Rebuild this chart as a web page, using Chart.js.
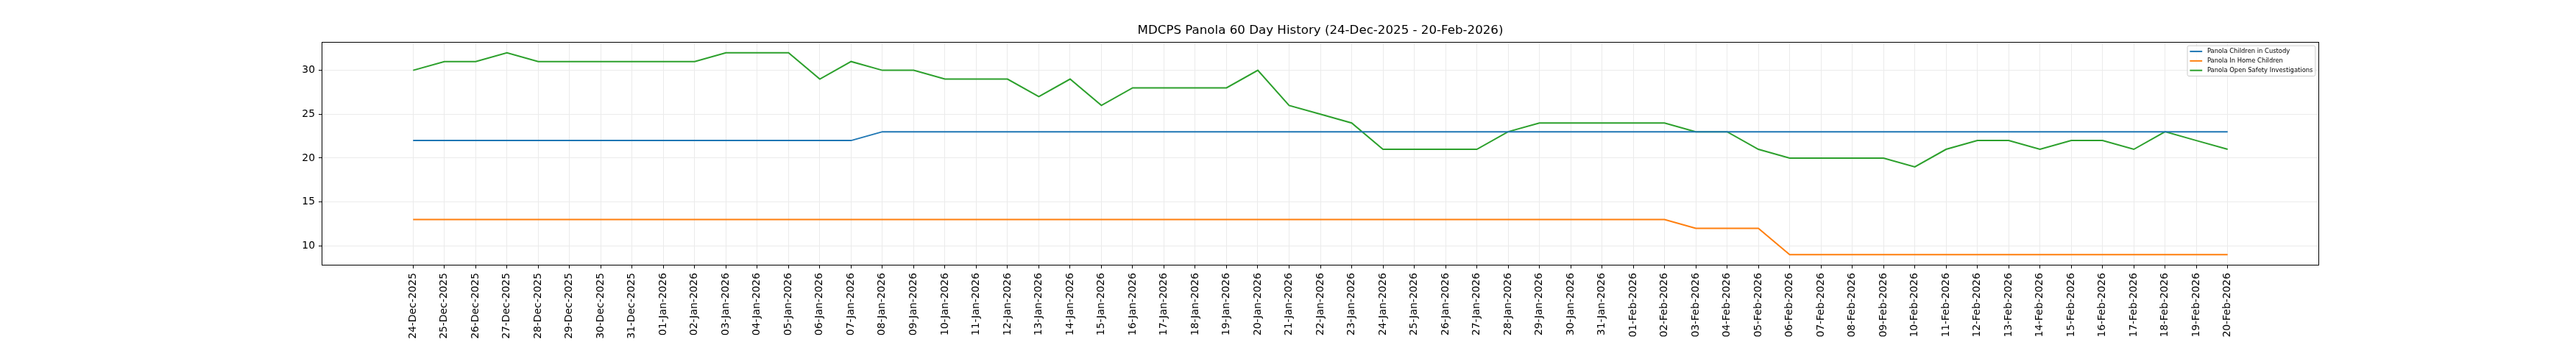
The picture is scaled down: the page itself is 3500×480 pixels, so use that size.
<!DOCTYPE html>
<html>
<head>
<meta charset="utf-8">
<script src="https://cdn.jsdelivr.net/npm/chart.js@4"></script>
<style>
  html, body { margin: 0; padding: 0; background: #fff; }
  canvas { display: block; }
</style>
</head>
<body>
<canvas id="historyChart" width="3500" height="480"></canvas>
<script>
// tick labels (one per day)
const dates = [
  '24-Dec-2025', '25-Dec-2025', '26-Dec-2025', '27-Dec-2025', '28-Dec-2025', '29-Dec-2025', '30-Dec-2025', '31-Dec-2025',
  '01-Jan-2026', '02-Jan-2026', '03-Jan-2026', '04-Jan-2026', '05-Jan-2026', '06-Jan-2026', '07-Jan-2026', '08-Jan-2026',
  '09-Jan-2026', '10-Jan-2026', '11-Jan-2026', '12-Jan-2026', '13-Jan-2026', '14-Jan-2026', '15-Jan-2026', '16-Jan-2026',
  '17-Jan-2026', '18-Jan-2026', '19-Jan-2026', '20-Jan-2026', '21-Jan-2026', '22-Jan-2026', '23-Jan-2026', '24-Jan-2026',
  '25-Jan-2026', '26-Jan-2026', '27-Jan-2026', '28-Jan-2026', '29-Jan-2026', '30-Jan-2026', '31-Jan-2026',
  '01-Feb-2026', '02-Feb-2026', '03-Feb-2026', '04-Feb-2026', '05-Feb-2026', '06-Feb-2026', '07-Feb-2026', '08-Feb-2026',
  '09-Feb-2026', '10-Feb-2026', '11-Feb-2026', '12-Feb-2026', '13-Feb-2026', '14-Feb-2026', '15-Feb-2026', '16-Feb-2026',
  '17-Feb-2026', '18-Feb-2026', '19-Feb-2026', '20-Feb-2026'
];

const custody = [
  22, 22, 22, 22, 22, 22, 22, 22,
  22, 22, 22, 22, 22, 22, 22, 23, 23, 23, 23, 23, 23, 23, 23, 23, 23, 23, 23, 23, 23, 23, 23, 23, 23, 23, 23, 23, 23, 23, 23,
  23, 23, 23, 23, 23, 23, 23, 23, 23, 23, 23, 23, 23, 23, 23, 23, 23, 23, 23, 23
];

const inHome = [
  13, 13, 13, 13, 13, 13, 13, 13,
  13, 13, 13, 13, 13, 13, 13, 13, 13, 13, 13, 13, 13, 13, 13, 13, 13, 13, 13, 13, 13, 13, 13, 13, 13, 13, 13, 13, 13, 13, 13,
  13, 13, 12, 12, 12, 9, 9, 9, 9, 9, 9, 9, 9, 9, 9, 9, 9, 9, 9, 9
];

const investigations = [
  30, 31, 31, 32, 31, 31, 31, 31,
  31, 31, 32, 32, 32, 29, 31, 30, 30, 29, 29, 29, 27, 29, 26, 28, 28, 28, 28, 30, 26, 25, 24, 21, 21, 21, 21, 23, 24, 24, 24,
  24, 24, 23, 23, 21, 20, 20, 20, 20, 19, 21, 22, 22, 21, 22, 22, 21, 23, 22, 21
];

const yTicks = [10, 15, 20, 25, 30];
const seriesNames = ['Panola Children in Custody', 'Panola In Home Children', 'Panola Open Safety Investigations'];
const seriesColors = ['#1f77b4', '#ff7f0e', '#2ca02c'];

const FONT = '"DejaVu Sans", "Liberation Sans", sans-serif';
const gridColor = '#ebebeb';

// black box all around the plot area, like matplotlib spines
const frame = {
  id: 'frame',
  afterDraw(chart) {
    const { ctx, chartArea: a } = chart;
    ctx.save();
    ctx.strokeStyle = '#000';
    ctx.lineWidth = 1;
    const l = Math.round(a.left) - 0.5, t = Math.round(a.top) - 0.5;
    const r = Math.round(a.right) + 0.5, b = Math.round(a.bottom) + 0.5;
    ctx.strokeRect(l, t, r - l, b - t);
    ctx.restore();
  }
};

// small legend in upper right corner inside the plot
const boxLegend = {
  id: 'boxLegend',
  afterDraw(chart) {
    const { ctx, chartArea: a } = chart;
    const fs = 8.4, pad = 0.4 * fs, handle = 2 * fs, gap = 0.8 * fs, rowH = 8.7, spacing = 0.5 * fs;
    const items = chart.data.datasets;
    ctx.save();
    ctx.font = fs + 'px ' + FONT;
    const textW = Math.max(...items.map(d => ctx.measureText(d.label).width));
    const w = pad + handle + gap + textW + pad;
    const h = 2 * pad + items.length * rowH + (items.length - 1) * spacing;
    const x0 = a.right - 0.5 * fs - w;
    const y0 = a.top + 0.5 * fs;

    ctx.beginPath();
    ctx.roundRect(x0, y0, w, h, 2);
    ctx.fillStyle = 'rgba(255,255,255,0.8)';
    ctx.fill();
    ctx.strokeStyle = '#cccccc';
    ctx.lineWidth = 1;
    ctx.stroke();

    items.forEach((d, i) => {
      const cy = y0 + pad + i * (rowH + spacing) + rowH / 2;
      ctx.beginPath();
      ctx.moveTo(x0 + pad, cy);
      ctx.lineTo(x0 + pad + handle, cy);
      ctx.strokeStyle = d.borderColor;
      ctx.lineWidth = 2;
      ctx.stroke();
      ctx.fillStyle = '#000';
      ctx.textBaseline = 'middle';
      ctx.textAlign = 'left';
      ctx.fillText(d.label, x0 + pad + handle + gap, cy);
    });
    ctx.restore();
  }
};

const toPoints = arr => arr.map((v, i) => ({ x: i, y: v }));

new Chart(document.getElementById('historyChart'), {
  type: 'line',
  data: {
    datasets: [custody, inHome, investigations].map((vals, i) => ({
      label: seriesNames[i],
      data: toPoints(vals),
      borderColor: seriesColors[i],
      backgroundColor: seriesColors[i],
      borderWidth: 2,
      pointRadius: 0,
      tension: 0,
      fill: false,
    }))
  },
  plugins: [frame, boxLegend],
  options: {
    responsive: false,
    devicePixelRatio: 1,
    animation: false,
    layout: { padding: { left: 378, right: 350, top: 0, bottom: 0 } },
    plugins: {
      legend: { display: false },
      tooltip: { enabled: false },
      title: {
        display: true,
        fullSize: false,
        text: 'MDCPS Panola 60 Day History (24-Dec-2025 - 20-Feb-2026)',
        color: '#000',
        font: { family: FONT, size: 16.67, weight: 'normal' },
        padding: { top: 32, bottom: 6 },
      },
    },
    scales: {
      x: {
        type: 'linear',
        min: -2.9,
        max: 60.9,
        afterBuildTicks: s => { s.ticks = dates.map((d, i) => ({ value: i })); },
        afterFit: s => { s.height = 120; },
        border: { display: false },
        grid: { color: gridColor, lineWidth: 1, tickLength: 5, tickColor: '#000', tickWidth: 1 },
        ticks: {
          autoSkip: false,
          maxRotation: 90,
          minRotation: 90,
          padding: 6,
          color: '#000',
          font: { family: FONT, size: 13.89 },
          callback: v => dates[v],
        },
      },
      y: {
        min: 7.85,
        max: 33.15,
        afterBuildTicks: s => { s.ticks = yTicks.map(v => ({ value: v })); },
        afterFit: s => { s.width = 60; },
        border: { display: false },
        grid: { color: gridColor, lineWidth: 1, tickLength: 5, tickColor: '#000', tickWidth: 1 },
        ticks: {
          padding: 5,
          color: '#000',
          font: { family: FONT, size: 13.89 },
        },
      },
    },
  }
});
</script>
</body>
</html>
